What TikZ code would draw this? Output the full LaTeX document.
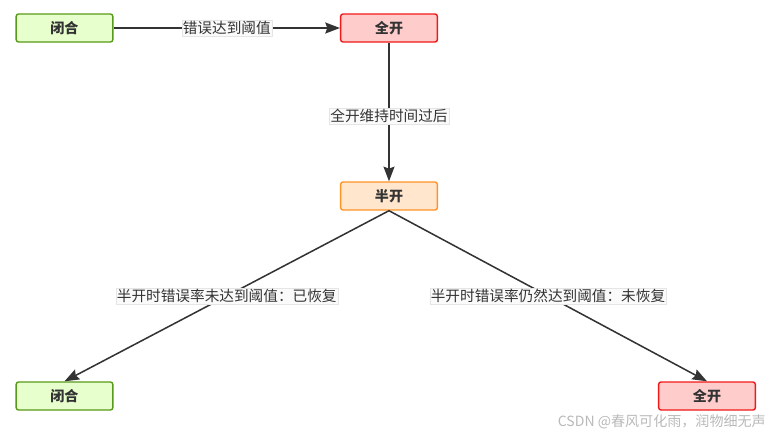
\documentclass[tikz,border=0pt]{standalone}
\usepackage{fontspec}
\setmainfont{Noto Sans CJK SC}
\usetikzlibrary{arrows.meta, positioning}
\definecolor{closedfill}{HTML}{E6FFCC}
\definecolor{closedline}{HTML}{5A9A1A}
\definecolor{openfill}{HTML}{FFCCCC}
\definecolor{openline}{HTML}{F01818}
\definecolor{halffill}{HTML}{FFE6CC}
\definecolor{halfline}{HTML}{FF9426}
\definecolor{ink}{HTML}{333333}

\begin{document}
\begin{tikzpicture}[
    x=0.03cm, y=-0.03cm,
    state/.style={draw=#1line, fill=#1fill, line width=1.2pt, rounded corners=2pt, minimum width=2.9cm, minimum height=0.84cm, inner sep=0pt, font=\bfseries\fontsize{12}{14}\selectfont, text=ink},
    arrow/.style={-{Stealth[length=4.4mm, width=3.3mm, inset=0.6mm]}, line width=1.3pt, color=ink},
    lbl/.style={fill=gray!4, draw=gray!20, line width=0.2pt, inner sep=1pt, font=\fontsize{12.5}{14}\selectfont, text=ink}
]
\useasboundingbox (0,0) rectangle (774,436);

\node[state=closed] (closedA) at (64.5,28) {闭合};
\node[state=open] (openA) at (389,28) {全开};
\node[state=half] (halfopen) at (389,196) {半开};
\node[state=closed] (closedB) at (64.5,396) {闭合};
\node[state=open] (openB) at (707,396) {全开};

\draw[arrow] (closedA) -- node[lbl] {错误达到阈值} (openA);
\draw[arrow] (openA) -- node[lbl, pos=0.53] {全开维持时间过后} (halfopen);
\draw[arrow] (halfopen.south) -- node[lbl, pos=0.5] {半开时错误率未达到阈值：已恢复} (closedB.north);
\draw[arrow] (halfopen.south) -- node[lbl, pos=0.5] {半开时错误率仍然达到阈值：未恢复} (openB.north);

\node[anchor=east, text=gray!55, font=\fontsize{12}{14}\selectfont, inner sep=0pt] (mark) at (766,422) {CSDN @春风可化雨，润物细无声};
\end{tikzpicture}
\end{document}
